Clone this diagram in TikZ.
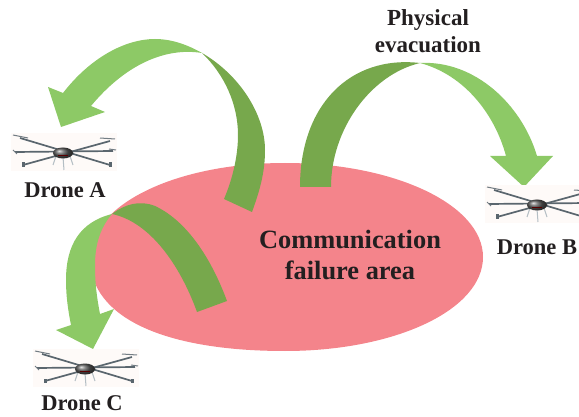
\documentclass[tikz,border=0pt]{standalone}
\usepackage{fontspec}
\setmainfont{Liberation Serif}
\definecolor{lightgreen}{HTML}{8DC966}
\definecolor{darkgreen}{HTML}{77A84C}
\definecolor{areared}{HTML}{F4848B}
\definecolor{armgray}{HTML}{5A666E}
\definecolor{leggray}{HTML}{B4BEC4}
\definecolor{labelblack}{HTML}{231F20}
\definecolor{dronetint}{HTML}{FEFAF8}
\tikzset{
  lightpart/.style={fill=lightgreen,draw=none},
  darkpart/.style={fill=darkgreen,draw=none},
  dronelabel/.style={font=\bfseries\fontsize{22.5}{24}\selectfont,text=labelblack,inner sep=0pt},
  bigarea/.style={font=\bfseries\fontsize{26.4}{31}\selectfont,text=labelblack,inner sep=0pt,align=center},
  evaclabel/.style={font=\bfseries\fontsize{23}{27}\selectfont,text=labelblack,inner sep=0pt,align=center},
  dronearm/.style={draw=armgray,line width=1.7pt},
  droneprop/.style={draw=armgray!85,line width=1pt},
  droneleg/.style={draw=leggray,line width=1pt},
  dronepic/.pic={
    \fill[dronetint] (-52,-20) rectangle (54,18);
    \draw[droneleg] (-7,3) -- (-10,12);
    \draw[droneleg] (0,4) -- (1,17);
    \draw[droneleg] (7,3) -- (10,12);
    \draw[dronearm] (-43,-15) -- (47,12);
    \draw[dronearm] (-40,12) -- (47,-12);
    \draw[dronearm] (-48,-1) -- (50,-2);
    \draw[droneprop] (-50,-18) -- (-35,-15);
    \draw[droneprop] (-50,-3) -- (-46,1);
    \draw[droneprop] (37,-15) -- (52,-14);
    \draw[droneprop] (46,-4) -- (53,-3);
    \fill[armgray] (-41.5,9.5) rectangle (-38.5,14);
    \fill[armgray] (45.5,9.5) rectangle (48.5,14);
    \shade[ball color=gray!70!black] (0,0) ellipse (10 and 5.5);
    \draw[red!35!black,line width=0.5pt] (-5,2.5) -- (5,2.5);
  }
}
\begin{document}
\begin{tikzpicture}[x=1pt,y=-1pt]
\useasboundingbox (0,0) rectangle (579,417);
\clip (0,0) rectangle (579,417);
% failure area
\fill[areared] (285,163) .. controls (175,163) and (90,205) .. (90,258)
  .. controls (90,318) and (165,351) .. (285,351)
  .. controls (395,351) and (483,310) .. (483,257)
  .. controls (483,205) and (395,163) .. (285,163) -- cycle;
% arrow to drone A
\fill[lightpart] (63,93) .. controls (90,58) and (125,39) .. (155,39)
  .. controls (172,39) and (188,45) .. (202,53)
  .. controls (165,47) and (125,65) .. (91,106)
  -- (105,112) -- (61,127) -- (48,87) -- cycle;
\fill[darkpart] (202,53) .. controls (240,75) and (265,115) .. (265,150)
  .. controls (265,172) and (260,190) .. (252,212)
  -- (224,199) .. controls (233,178) and (238,155) .. (238,135)
  .. controls (238,105) and (225,75) .. (202,53) -- cycle;
% arrow to drone B
\fill[darkpart] (420,63) .. controls (350,55) and (300,105) .. (300,187)
  -- (331,187) .. controls (331,130) and (370,75) .. (420,63) -- cycle;
\fill[lightpart] (420,63) .. controls (475,60) and (522,105) .. (537,156)
  -- (553,156) -- (524,187) -- (490,156) -- (506,156)
  .. controls (495,115) and (465,75) .. (420,63) -- cycle;
% arrow to drone C
\fill[lightpart] (112,214) .. controls (80,222) and (66,245) .. (66,280)
  .. controls (66,296) and (68,310) .. (71,325)
  -- (56,330) -- (93,349) -- (114,309) -- (100,314)
  .. controls (97,298) and (95,285) .. (95,265)
  .. controls (95,245) and (100,228) .. (112,214) -- cycle;
\fill[darkpart] (112,214) .. controls (125,204) and (140,200) .. (155,206)
  .. controls (185,220) and (210,255) .. (227,301)
  -- (197,312) .. controls (180,265) and (150,222) .. (112,214) -- cycle;
% drones
\pic (droneA) at (63,153) {dronepic};
\pic (droneB) at (537,205) {dronepic};
\pic (droneC) at (85,369) {dronepic};
% labels
\node[dronelabel] (labelA) at (65,190) {Drone A};
\node[dronelabel] (labelB) at (537,247) {Drone B};
\node[dronelabel] (labelC) at (82,403) {Drone C};
\node[bigarea] (area) at (350,255) {Communication\\failure area};
\node[evaclabel] (evac) at (428,31) {Physical\\evacuation};
\end{tikzpicture}
\end{document}
